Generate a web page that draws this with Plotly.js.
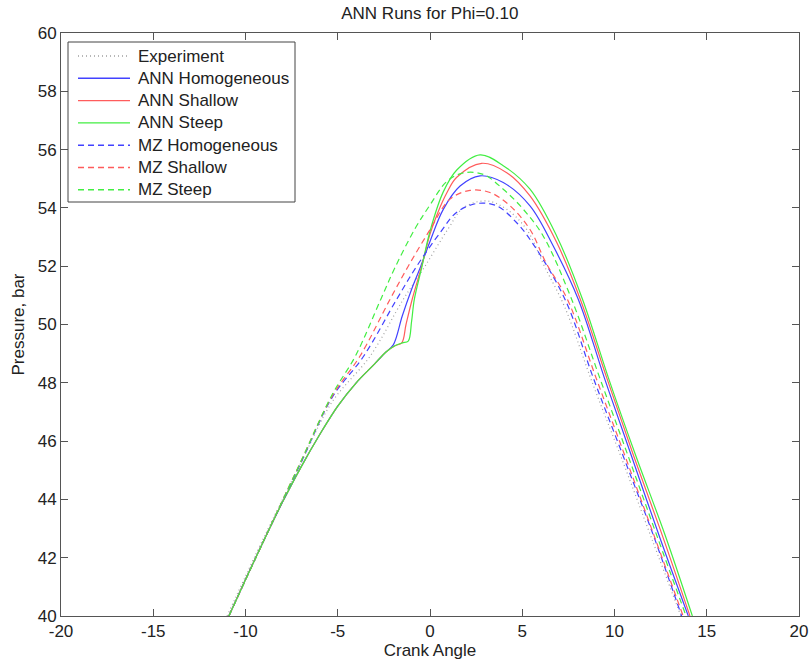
<!DOCTYPE html>
<html>
<head>
<meta charset="utf-8">
<script src="https://cdn.plot.ly/plotly-3.0.1.min.js"></script>
<style>html,body{margin:0;padding:0;background:#fff;}#chart{width:811px;height:665px;}</style>
</head>
<body>
<div id="chart"></div>
<script>
// Experiment
const expX = [-11.0,-9,-7,-5.3,-3.25,-1.45,-0.27,1.0,1.8,3.07,4.16,5.24,6.2,7.3,8.8,10.45,12.05,13.6];
const expP = [40,42.7,45.25,47.35,48.91,50.86,52.0,53.3,54.0,54.24,53.95,53.26,52.0,50.6,48.0,45.3,42.6,40];
// ANN Homogeneous
const annHomX = [-10.9,-10,-9,-8,-7,-6,-5,-4,-3,-2.4,-1.99,-1.5,-1.0,-0.5,0,0.72,1.63,2.71,3.97,5.42,6.68,8.04,9.45,10.93,12.45,14.0];
const annHomP = [40,41.25,42.6,43.9,45.1,46.2,47.2,48.0,48.65,49.05,49.3,50.3,51.2,52.0,52.85,53.95,54.75,55.1,54.87,54.07,52.69,50.86,48.17,45.47,42.7,40];
// ANN Shallow
const annShaX = [-10.9,-10,-9,-8,-7,-6,-5,-4,-3,-2.4,-1.9,-1.53,-1.3,-0.95,-0.45,0,0.4,0.9,1.45,2.8,4.16,5.42,6.87,8.15,9.58,11.05,12.6,14.09];
const annShaP = [40,41.25,42.6,43.9,45.1,46.2,47.2,48.0,48.65,49.05,49.27,49.37,50.0,50.9,52.0,53.1,53.8,54.5,55.05,55.53,55.21,54.41,52.81,50.86,48.17,45.47,42.75,40];
// ANN Steep
const annStpX = [-10.9,-10,-9,-8,-7,-6,-5,-4,-3,-2.4,-1.9,-1.5,-1.18,-1.0,-0.85,-0.45,0,0.72,1.45,2.71,3.97,5.42,6.87,8.27,9.67,11.17,12.74,14.22];
const annStpP = [40,41.25,42.6,43.9,45.1,46.2,47.2,48.0,48.65,49.05,49.27,49.37,49.43,50.1,50.86,51.95,53.2,54.55,55.3,55.82,55.45,54.64,53.03,50.86,48.17,45.47,42.78,40];
// MZ Homogeneous
const mzHomX = [-10.9,-9,-7,-5.3,-3.6,-1.81,-0.72,0.55,1.45,2.53,3.62,4.7,5.6,7.32,8.85,10.48,12.1,13.64];
const mzHomP = [40,42.6,45.25,47.5,48.91,50.86,52.0,53.15,53.85,54.15,54.07,53.49,52.75,50.86,48.17,45.47,42.78,40];
// MZ Shallow
const mzShaX = [-10.9,-9,-7,-5.3,-3.8,-2.17,-1.18,0,1.08,2.17,3.25,4.34,5.42,6.3,7.45,9.0,10.58,12.15,13.72];
const mzShaP = [40,42.6,45.3,47.55,48.91,50.86,52.0,53.25,54.3,54.6,54.53,54.07,53.26,52.1,50.86,48.17,45.47,42.75,40];
// MZ Steep
const mzStpX = [-10.9,-9,-7,-5.3,-4.05,-2.67,-1.9,-0.8,0,0.9,1.8,2.89,3.97,5.06,6.14,7.68,9.2,10.75,12.3,13.88];
const mzStpP = [40,42.6,45.3,47.6,48.91,50.86,51.95,53.3,54.1,54.9,55.2,55.15,54.64,53.95,53.03,50.86,48.17,45.47,42.75,40];

const seriesNames = ['Experiment','ANN Homogeneous','ANN Shallow','ANN Steep','MZ Homogeneous','MZ Shallow','MZ Steep'];
const xTicks = [-20,-15,-10,-5,0,5,10,15,20];
const yTicks = [40,42,44,46,48,50,52,54,56,58,60];

const BLUE = '#4242ff', RED = '#ff5c5c', GREEN = '#42ee42', GRAY = '#a0a0a0';
const styles = [
  {color: GRAY, dash: '1px,3px'},
  {color: BLUE, dash: 'solid'},
  {color: RED, dash: 'solid'},
  {color: GREEN, dash: 'solid'},
  {color: BLUE, dash: '6px,4px'},
  {color: RED, dash: '6px,4px'},
  {color: GREEN, dash: '6px,4px'}
];
const xs = [expX, annHomX, annShaX, annStpX, mzHomX, mzShaX, mzStpX];
const ys = [expP, annHomP, annShaP, annStpP, mzHomP, mzShaP, mzStpP];

const data = seriesNames.map((n, i) => ({
  x: xs[i], y: ys[i], name: n, type: 'scatter', mode: 'lines', showlegend: false,
  line: {color: styles[i].color, width: 1.2, dash: styles[i].dash, shape: 'spline', smoothing: 1.0}
}));

const FONT = 'Liberation Sans, Arial, sans-serif';
const FS = 17;
// plot area in px: left 61, right 799, top 33, bottom 616
const PL = 61, PW = 738, PT = 33, PH = 583;
const px2x = p => (p - PL) / PW;
const py2y = p => (PT + PH - p) / PH;

const shapes = [];
const annotations = [];
// legend box
shapes.push({type: 'rect', xref: 'paper', yref: 'paper', x0: px2x(68), x1: px2x(295), y0: py2y(202), y1: py2y(42),
  line: {color: '#444', width: 1}, fillcolor: '#fff', layer: 'above'});
seriesNames.forEach((n, i) => {
  const cy = 56 + i * 22.3;
  shapes.push({type: 'line', xref: 'paper', yref: 'paper', x0: px2x(78), x1: px2x(130), y0: py2y(cy), y1: py2y(cy),
    line: {color: styles[i].color, width: 1.4, dash: styles[i].dash}, layer: 'above'});
  annotations.push({xref: 'paper', yref: 'paper', x: px2x(136), y: py2y(cy), xanchor: 'left', yanchor: 'middle',
    text: n, showarrow: false, font: {family: FONT, size: FS, color: '#222'}});
});

const axisCommon = {
  showgrid: false, zeroline: false, showline: true, linecolor: '#555', linewidth: 1,
  mirror: 'ticks', ticks: 'inside', ticklen: 7, tickcolor: '#555', tickwidth: 1,
  tickfont: {family: FONT, size: FS, color: '#222'}
};
const layout = {
  width: 811, height: 665,
  margin: {l: 61, r: 12, t: 33, b: 49},
  paper_bgcolor: '#fff', plot_bgcolor: '#fff',
  font: {family: FONT, size: FS, color: '#222'},
  title: {text: 'ANN Runs for Phi=0.10', font: {family: FONT, size: FS, color: '#222'}, x: 0.53, xanchor: 'center', y: 0.981, yanchor: 'middle'},
  xaxis: Object.assign({}, axisCommon, {range: [-20, 20], tickvals: xTicks, ticktext: xTicks.map(String),
    title: {text: 'Crank Angle', font: {family: FONT, size: FS, color: '#222'}, standoff: 3}}),
  yaxis: Object.assign({}, axisCommon, {range: [40, 60], tickvals: yTicks, ticktext: yTicks.map(String),
    title: {text: 'Pressure, bar', font: {family: FONT, size: FS, color: '#222'}, standoff: 8}}),
  showlegend: false,
  shapes: shapes,
  annotations: annotations
};
Plotly.newPlot('chart', data, layout, {displayModeBar: false, staticPlot: true});
</script>
</body>
</html>
